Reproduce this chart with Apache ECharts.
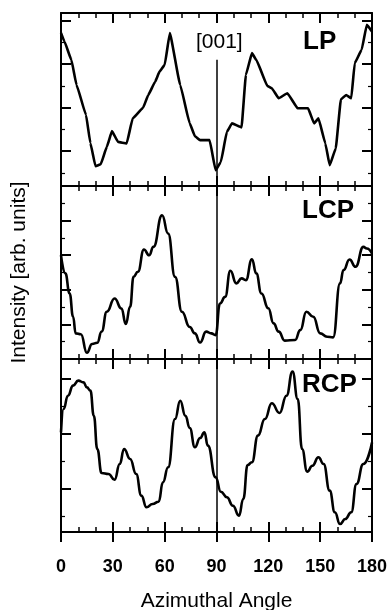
<!DOCTYPE html>
<html>
<head>
<meta charset="utf-8">
<script src="https://cdn.jsdelivr.net/npm/echarts@6/dist/echarts.min.js"></script>
<style>html,body{margin:0;padding:0;background:#fff}#c{width:389px;height:610px}</style>
</head>
<body>
<div id="c"></div>
<script>
// ---- data ----
const xTickLabels = ['0','30','60','90','120','150','180'];
const panelNames = ['LP','LCP','RCP'];

const angleLP = [0,2,6,9,14.5,17,20,23,26.5,29.5,33,38,41.5,47.5,50.5,54.5,57,60,63,69,74.5,77.5,80.5,86,89.5,92.5,96,99,104.5,107,110.5,113,119.5,122,126,131,137,143,146.5,149,153,155.5,159,162,165,168,170,174,177,180];
const valueLP = [8.84,8.35,7.29,5.84,4.10,2.48,1.14,1.26,2.26,3.17,2.55,2.46,3.91,4.52,5.26,6.03,6.61,7.0,8.84,5.84,3.62,2.88,2.65,2.65,0.91,1.39,3.13,3.62,3.39,6.42,7.68,7.29,5.78,5.65,5.07,5.36,4.49,4.49,3.62,3.91,2.46,1.20,2.17,5.01,5.26,5.07,7.10,7.87,9.32,8.93];

const angleLCP = [0,2.5,5,7,8.5,11.5,15,18,21,23.5,26.5,31,35,37.5,40,42,44.5,48,51,53.5,58.5,62,66,70,74.5,77.5,80.5,84,87,89.5,92,95,98,101.5,104.5,107,110.5,113,116,120,123,126,129.5,135.5,138.5,142,146,150,154,157.5,161.5,163.5,167,170.5,175,177,180];
const valueLCP = [6.0,4.95,3.79,2.44,1.48,1.43,0.36,0.87,0.94,1.58,2.73,3.50,2.92,2.02,3.02,4.75,5.04,6.33,6.0,6.48,8.31,7.25,4.75,2.73,1.85,1.48,0.95,1.58,1.48,1.38,3.21,3.59,5.10,4.37,4.66,4.56,5.77,4.95,3.79,2.93,2.06,1.58,1.06,1.10,1.67,2.73,2.44,1.48,1.29,1.25,4.37,5.14,5.75,5.33,6.48,6.39,6.10];

const angleRCP = [0,1.5,4,7,10,13,15,17,19,21,23.5,27.5,31,34,36.5,40,43.5,46.5,49.5,53,56.5,59,62,66,69,72,74.5,77.5,80.5,83,85,89.5,92.5,96,99.5,103,105.5,108,110.5,114,118,122,126.5,130.5,134,137,139.5,142.5,145.5,149,152,155.5,158.5,161.5,164.5,168,171,175,180];
const valueRCP = [5.76,7.11,7.88,8.46,8.75,8.65,8.36,8.17,6.72,4.80,3.41,3.35,3.02,3.93,4.80,4.22,3.35,2.10,1.43,1.62,1.75,2.87,3.74,6.53,7.59,6.72,6.01,4.90,5.43,5.76,4.99,3.16,2.33,2.01,1.52,0.94,1.91,3.87,4.03,5.57,6.53,7.44,6.88,7.88,9.27,7.69,4.80,3.49,3.83,4.32,3.93,2.39,1.14,0.46,0.75,1.14,2.77,3.93,5.18];

// y tick positions (arb. units) for each panel
const yMajorLP = [2.01,4.52,7.04,9.57];
const yMinorLP = [0.75,3.27,5.78,8.30];
const yMajorLCP = [2,4,6,8];
const yMinorLCP = [1,3,5,7,9];
const yMajorRCP = [2.49,5.66,8.84];
const yMinorRCP = [0.90,4.07,7.25];

// vertical [001] marker
const markerAngle = 90;
const markerStartLP = 7.3;

// ---- build chart ----
const FONT = "'Liberation Sans', Arial, Helvetica, sans-serif";
const panels = [
  {angles: angleLP, values: valueLP, major: yMajorLP, minor: yMinorLP, smooth: 0.1},
  {angles: angleLCP, values: valueLCP, major: yMajorLCP, minor: yMinorLCP, smooth: 0.5},
  {angles: angleRCP, values: valueRCP, major: yMajorRCP, minor: yMinorRCP, smooth: 0.5}
];
const gridTops = [13, 186, 359];
const gridH = 173;
const lineBlack = {color: '#000', width: 2};

const grids = [], xAxes = [], yAxes = [], series = [];
panels.forEach((p, i) => {
  grids.push({left: 61, right: 17, top: gridTops[i], height: gridH, containLabel: false, outerBoundsMode: 'none'});
  const isLast = i === panels.length - 1;
  const baseX = {
    type: 'value', gridIndex: i, min: 0, max: 180, interval: 30,
    axisLine: {show: true, onZero: false, lineStyle: lineBlack},
    axisTick: {show: true, inside: true, length: 10, lineStyle: lineBlack},
    minorTick: {show: true, splitNumber: 3, length: 5, lineStyle: {color: '#000', width: 1.5}},
    splitLine: {show: false}, minorSplitLine: {show: false},
    axisLabel: {show: false}
  };
  xAxes.push(Object.assign({}, baseX, {position: 'bottom'}, isLast ? {
    axisLabel: {show: true, margin: 26, fontSize: 18, fontWeight: 'bold', color: '#000', fontFamily: FONT,
      formatter: v => xTickLabels[Math.round(v / 30)]},
    name: 'Azimuthal Angle', nameLocation: 'middle', nameGap: 59,
    nameTextStyle: {fontSize: 21, color: '#000', fontFamily: FONT}
  } : {}));
  xAxes.push(Object.assign({}, baseX, {position: 'top'}));
  const baseY = {
    type: 'value', gridIndex: i, min: 0, max: 10,
    axisLine: {show: true, onZero: false, lineStyle: lineBlack},
    axisTick: {show: true, inside: true, length: 10, customValues: p.major, lineStyle: lineBlack},
    axisLabel: {show: false}, splitLine: {show: false}
  };
  const leftY = Object.assign({}, baseY, {position: 'left'});
  if (i === 1) {
    Object.assign(leftY, {name: 'Intensity [arb. units]', nameLocation: 'middle', nameGap: 31,
      nameTextStyle: {fontSize: 21, color: '#000', fontFamily: FONT}});
  }
  yAxes.push(leftY);
  yAxes.push(Object.assign({}, baseY, {position: 'right'}));
  const minorY = {
    type: 'value', gridIndex: i, min: 0, max: 10,
    axisLine: {show: false, onZero: false},
    axisTick: {show: true, inside: true, length: 4, customValues: p.minor, lineStyle: {color: '#000', width: 1.2}},
    axisLabel: {show: false}, splitLine: {show: false}
  };
  yAxes.push(Object.assign({}, minorY, {position: 'left'}));
  yAxes.push(Object.assign({}, minorY, {position: 'right'}));

  const lineData = p.angles.map((a, k) => [a, p.values[k]]);
  series.push({
    type: 'line', xAxisIndex: 2 * i, yAxisIndex: 4 * i,
    data: lineData, showSymbol: false, symbol: 'none',
    smooth: p.smooth, smoothMonotone: 'x',
    lineStyle: {color: '#000', width: 2.6}, silent: true,
    markLine: {
      silent: true, symbol: 'none', label: {show: false},
      lineStyle: {color: '#000', width: 1.5, type: 'solid'},
      data: [[{coord: [markerAngle, i === 0 ? markerStartLP : 10]}, {coord: [markerAngle, 0]}]]
    }
  });
});
// outward major ticks below the last panel
xAxes.push({
  type: 'value', gridIndex: 2, position: 'bottom', min: 0, max: 180, interval: 30,
  axisLine: {show: false, onZero: false}, axisTick: {show: true, inside: false, length: 10, lineStyle: lineBlack},
  axisLabel: {show: false}, splitLine: {show: false}
});

const labelStyle = (txt, x, y, size, weight) => ({
  type: 'text', x: x, y: y, silent: true,
  style: {text: txt, fill: '#000', font: weight + ' ' + size + 'px ' + FONT, textAlign: 'left', textVerticalAlign: 'middle'}
});

const chart = echarts.init(document.getElementById('c'), null, {renderer: 'canvas'});
chart.setOption({
  animation: false,
  backgroundColor: '#fff',
  grid: grids, xAxis: xAxes, yAxis: yAxes, series: series,
  graphic: [
    labelStyle(panelNames[0], 303, 42, 26, 'bold'),
    labelStyle(panelNames[1], 302, 211, 26, 'bold'),
    labelStyle(panelNames[2], 302, 385, 26, 'bold'),
    labelStyle('[001]', 196, 42, 21, 'normal')
  ]
});
</script>
</body>
</html>
